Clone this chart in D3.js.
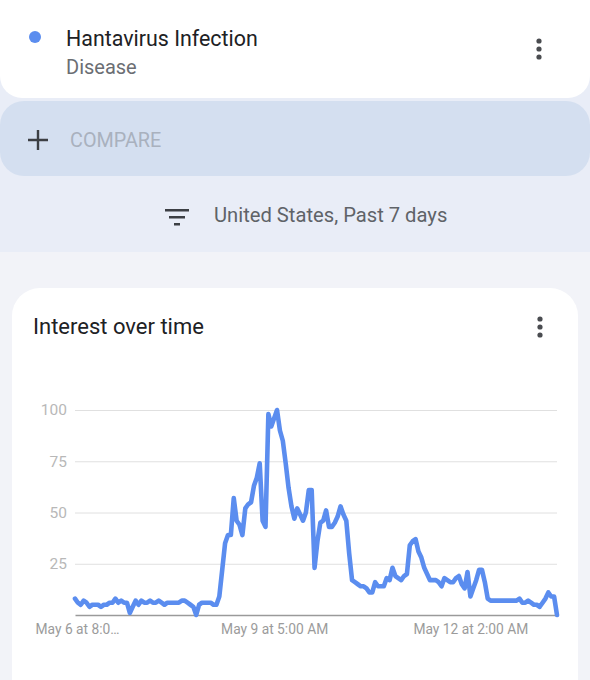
<!DOCTYPE html>
<html>
<head>
<meta charset="utf-8">
<script src="https://cdn.jsdelivr.net/npm/d3@7"></script>
<style>
  html, body { margin: 0; padding: 0; background: #f2f3f8; }
  svg { display: block; font-family: Roboto, "Noto Sans", Arial, sans-serif; }
</style>
</head>
<body>
<svg id="chart" width="590" height="680"></svg>
<script>
// ---- data ----
const searchTerm = "Hantavirus Infection";
const termType = "Disease";
const filterText = "United States, Past 7 days";
const chartTitle = "Interest over time";
const yTicks = [25, 50, 75, 100];
const xTickIndex = [0, 69, 138];
const xTickLabels = ["May 6 at 8:0…", "May 9 at 5:00 AM", "May 12 at 2:00 AM"];
const interest = [
  8, 6, 5, 7, 6, 4, 5, 5, 5, 4,
  5, 5, 6, 6, 8, 6, 7, 6, 6, 1,
  4, 7, 5, 7, 6, 6, 7, 6, 6, 7,
  6, 5, 6, 6, 6, 6, 6, 7, 7, 6,
  5, 4, 0, 5, 6, 6, 6, 6, 5, 5,
  9, 22, 35, 39, 39, 57, 46, 44, 39, 52,
  54, 55, 63, 67, 74, 46, 43, 98, 92, 96,
  100, 90, 85, 74, 62, 53, 47, 52, 49, 46,
  50, 61, 61, 23, 36, 45, 46, 51, 43, 43,
  45, 48, 53, 49, 46, 30, 17, 16, 15, 14,
  14, 13, 11, 11, 16, 14, 14, 14, 18, 17,
  23, 19, 18, 17, 19, 20, 34, 36, 37, 31,
  28, 23, 20, 17, 17, 17, 16, 14, 18, 17,
  16, 16, 18, 19, 15, 13, 21, 9, 13, 17,
  22, 22, 16, 8, 7, 7, 7, 7, 7, 7,
  7, 7, 7, 7, 8, 6, 6, 7, 6, 5,
  5, 4, 6, 8, 11, 9, 9, 0
];

const svg = d3.select("#chart");

// ---- background bands ----
svg.append("rect").attr("x", 0).attr("y", 0).attr("width", 590).attr("height", 252).attr("fill", "#e9edf7");
svg.append("rect").attr("x", 0).attr("y", 252).attr("width", 590).attr("height", 428).attr("fill", "#f2f3f8");

// top card (white)
svg.append("rect").attr("x", 0).attr("y", -40).attr("width", 590).attr("height", 138)
  .attr("rx", 22).attr("fill", "#ffffff");
// compare bar
svg.append("rect").attr("x", 0).attr("y", 101).attr("width", 590).attr("height", 75)
  .attr("rx", 24).attr("fill", "#d4dff0");

// dot + term
svg.append("circle").attr("cx", 35).attr("cy", 37).attr("r", 6).attr("fill", "#5b8def");
svg.append("text").attr("x", 66).attr("y", 46).attr("font-size", 21.4).attr("fill", "#202124").text(searchTerm);
svg.append("text").attr("x", 66).attr("y", 74).attr("font-size", 20).attr("fill", "#6b6e73").text(termType);

function kebab(cx, cy) {
  [-8, 0, 8].forEach(d => svg.append("circle").attr("cx", cx).attr("cy", cy + d).attr("r", 2.6).attr("fill", "#4a4c50"));
}
kebab(539, 49);

// compare
svg.append("path").attr("d", "M28,140 H48 M38,130 V150").attr("stroke", "#3c3f44").attr("stroke-width", 2.4).attr("fill", "none");
svg.append("text").attr("x", 70).attr("y", 147).attr("font-size", 19.8).attr("fill", "#a9b1be").text("COMPARE");

// filter row
const fy = 209;
svg.append("rect").attr("x", 165).attr("y", fy).attr("width", 24).attr("height", 2.5).attr("fill", "#3c3f44");
svg.append("rect").attr("x", 169).attr("y", fy + 7).attr("width", 16).attr("height", 2.5).attr("fill", "#3c3f44");
svg.append("rect").attr("x", 174).attr("y", fy + 14).attr("width", 6).attr("height", 2.5).attr("fill", "#3c3f44");
svg.append("text").attr("x", 214).attr("y", 222).attr("font-size", 20.2).attr("fill", "#5f6368").text(filterText);

// chart card
svg.append("rect").attr("x", 12).attr("y", 288).attr("width", 566).attr("height", 420)
  .attr("rx", 28).attr("fill", "#ffffff");
svg.append("text").attr("x", 33).attr("y", 334).attr("font-size", 22).attr("fill", "#202124").text(chartTitle);
kebab(540, 327);

// ---- scales ----
const x0 = 75, x1 = 557, yTop = 410, yBot = 615;
const x = d3.scaleLinear().domain([0, interest.length - 1]).range([x0, x1]);
const y = d3.scaleLinear().domain([0, 100]).range([yBot, yTop]);

// gridlines + y labels
const yAxis = d3.axisLeft(y).tickValues(yTicks).tickSize(-(x1 - x0)).tickPadding(8);
const gy = svg.append("g").attr("transform", `translate(${x0},0)`).call(yAxis);
gy.select(".domain").remove();
gy.selectAll(".tick line").attr("stroke", "#e0e0e0").attr("stroke-width", 1);
gy.selectAll(".tick text").attr("fill", "#b8b8b8").attr("font-size", 15.5)
  .attr("font-family", "Roboto, 'Noto Sans', Arial, sans-serif");

// x axis baseline + labels
const xAxis = d3.axisBottom(x).tickValues(xTickIndex).tickFormat((d, i) => xTickLabels[i]).tickSize(0).tickPadding(9);
const gx = svg.append("g").attr("transform", `translate(0,${yBot})`).call(xAxis);
gx.select(".domain").attr("stroke", "#9a9a9a").attr("stroke-width", 1.3);
gx.selectAll(".tick text").attr("fill", "#9b9b9b").attr("font-size", 13.8)
  .attr("font-family", "Roboto, 'Noto Sans', Arial, sans-serif");
gx.selectAll(".tick text").filter((d, i) => i === 0).attr("text-anchor", "start").attr("dx", -40);
gx.selectAll(".tick text").filter((d, i) => i === 2).attr("dx", -3);

// line
const line = d3.line().x((d, i) => x(i)).y(d => y(d));
svg.append("path").datum(interest).attr("d", line)
  .attr("fill", "none").attr("stroke", "#5b8def").attr("stroke-width", 4.6)
  .attr("stroke-linejoin", "round").attr("stroke-linecap", "round");
</script>
</body>
</html>
